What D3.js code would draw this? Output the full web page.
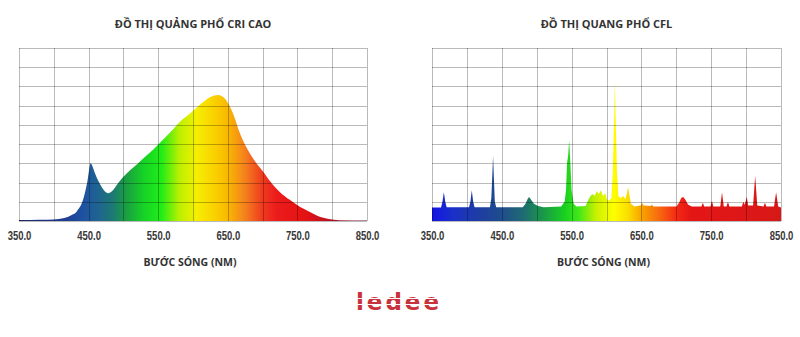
<!DOCTYPE html>
<html>
<head>
<meta charset="utf-8">
<script src="https://cdn.jsdelivr.net/npm/d3@7"></script>
<style>
  body { margin: 0; background: #fff; }
  svg { display: block; }
</style>
</head>
<body>
<script>
// wavelength ticks (nm)
var xTicks = [350, 450, 550, 650, 750, 850];

// high CRI LED spectrum (grid rows = units)
var criWavelengths = [350, 380, 400, 415, 425, 433, 442, 448, 453, 456, 460, 466, 472, 478, 485, 492, 500, 510, 520, 530, 543, 553, 567, 581, 596, 610, 625, 636, 645, 650, 655, 660, 667, 675, 682, 690, 700, 711, 725, 739, 754, 768, 782, 795, 810, 850];
var criValues = [0.05, 0.06, 0.08, 0.15, 0.3, 0.5, 1.1, 2.0, 3.0, 2.8, 2.4, 1.95, 1.6, 1.45, 1.6, 1.95, 2.3, 2.65, 2.97, 3.3, 3.72, 4.08, 4.6, 5.15, 5.6, 6.05, 6.45, 6.56, 6.4, 6.15, 5.8, 5.35, 4.6, 3.95, 3.5, 3.05, 2.6, 2.05, 1.5, 1.1, 0.73, 0.47, 0.22, 0.1, 0.04, 0.02];

// CFL spectrum
var cflWavelengths = [350, 363, 365, 367, 369, 371, 403, 405, 407, 409, 411, 433, 435, 436.5, 437.5, 438.5, 440, 442, 480, 484, 487, 489, 492, 496, 502, 510, 535, 540, 542, 543.5, 545, 546.5, 548, 550, 553, 557, 570, 574, 577, 580, 583, 586, 589, 592, 595, 598, 601, 604, 607, 609, 611, 612, 613, 615, 617, 620, 624, 627, 629, 631, 633, 635, 640, 649, 651, 653, 663, 665, 667, 700, 704, 707, 710, 713, 717, 722, 736, 738, 740, 749, 751, 753, 763, 765.5, 768, 772, 774, 776, 794, 796, 798, 801, 803, 810, 813, 816, 825, 827, 829, 840, 843, 846, 850];
var cflValues = [0.7, 0.7, 1.0, 1.5, 1.0, 0.72, 0.72, 1.0, 1.6, 1.0, 0.72, 0.72, 1.2, 2.5, 3.4, 2.4, 1.0, 0.72, 0.72, 0.9, 1.15, 1.25, 1.1, 0.9, 0.78, 0.72, 0.75, 1.0, 1.6, 3.0, 3.4, 4.2, 3.2, 1.6, 0.9, 0.75, 0.78, 1.1, 1.3, 1.4, 1.3, 1.55, 1.4, 1.6, 1.3, 1.45, 1.1, 1.05, 1.2, 2.5, 5.5, 7.35, 5.5, 2.5, 1.3, 1.2, 1.3, 1.15, 1.4, 1.75, 1.3, 0.9, 0.75, 0.8, 0.95, 0.8, 0.78, 0.85, 0.75, 0.75, 0.95, 1.2, 1.25, 1.1, 0.85, 0.75, 0.75, 0.95, 0.75, 0.75, 1.05, 0.75, 0.75, 1.5, 0.75, 0.75, 1.0, 0.75, 0.75, 1.0, 0.85, 1.25, 0.8, 0.8, 2.35, 0.8, 0.75, 0.95, 0.75, 0.75, 1.5, 0.75, 0.7];

var criTitle = "ĐỒ THỊ QUẢNG PHỔ CRI CAO";
var cflTitle = "ĐỒ THỊ QUANG PHỔ CFL";
var axisTitle = "BƯỚC SÓNG (NM)";

var width = 800, height = 337;

var svg = d3.select("body")
    .append("svg")
    .attr("width", width)
    .attr("height", height);

svg.append("rect")
    .attr("width", width)
    .attr("height", height)
    .attr("fill", "#fff");

var defs = svg.append("defs");

function drawPanel(opts) {
    var x = d3.scaleLinear()
        .domain([350, 850])
        .range([opts.left, opts.right]);
    var y = d3.scaleLinear()
        .domain([0, 9])
        .range([221, 48]);

    // horizontal colour ramp by wavelength
    var grad = defs.append("linearGradient")
        .attr("id", opts.id)
        .attr("gradientUnits", "userSpaceOnUse")
        .attr("x1", x(350)).attr("x2", x(850))
        .attr("y1", 0).attr("y2", 0);
    opts.stops.forEach(function(s) {
        grad.append("stop")
            .attr("offset", (s[0] - 350) / 500)
            .attr("stop-color", s[1]);
    });

    var g = svg.append("g");

    var area = d3.area()
        .x(function(d) { return x(d[0]); })
        .y0(y(0))
        .y1(function(d) { return y(d[1]); })
        .curve(opts.curve);

    g.append("path")
        .datum(d3.zip(opts.wl, opts.vals))
        .attr("d", area)
        .attr("fill", "url(#" + opts.id + ")");

    // grid on top of the fill
    var grid = g.append("g")
        .attr("stroke", "#000")
        .attr("stroke-opacity", 0.27)
        .attr("stroke-width", 1);
    d3.range(350, 851, 50).forEach(function(v) {
        var px = Math.round(x(v)) + 0.5;
        grid.append("line")
            .attr("x1", px).attr("x2", px)
            .attr("y1", y(9)).attr("y2", y(0));
    });
    d3.range(0, 10).forEach(function(v) {
        var py = Math.round(y(v)) + 0.5;
        grid.append("line")
            .attr("x1", x(350)).attr("x2", x(850))
            .attr("y1", py).attr("y2", py);
    });

    var ax = g.append("g")
        .attr("transform", "translate(0," + y(0) + ")")
        .call(d3.axisBottom(x)
            .tickValues(xTicks)
            .tickSize(0)
            .tickPadding(10)
            .tickFormat(d3.format(".1f")));
    ax.select(".domain").remove();
    // narrow, tall digits like the original's condensed face
    ax.selectAll("text")
        .attr("font-family", "'Liberation Sans', Arial, sans-serif")
        .attr("font-weight", "bold")
        .attr("font-size", 13)
        .attr("transform", "scale(0.73,1)")
        .attr("fill", "#383838");

    var cx = (opts.left + opts.right) / 2;
    g.append("text")
        .attr("x", cx)
        .attr("y", 28)
        .attr("text-anchor", "middle")
        .attr("font-family", "'Open Sans', sans-serif")
        .attr("font-weight", "bold")
        .attr("font-size", 11)
        .attr("fill", "#333")
        .text(opts.title);

    g.append("text")
        .attr("x", cx - 3)
        .attr("y", 266)
        .attr("text-anchor", "middle")
        .attr("font-family", "'Open Sans', sans-serif")
        .attr("font-weight", "bold")
        .attr("font-size", 10.5)
        .attr("fill", "#333")
        .text(axisTitle);
}

drawPanel({
    id: "criGrad",
    left: 19, right: 367,
    title: criTitle,
    wl: criWavelengths, vals: criValues,
    curve: d3.curveMonotoneX,
    stops: [[350, "#1c2470"], [420, "#1f3f94"], [440, "#1e50a2"], [465, "#1f6590"],
            [485, "#1c7a72"], [505, "#1aa040"], [530, "#16d426"], [555, "#22ec18"],
            [580, "#b8f000"], [605, "#f6ef00"], [630, "#fad200"], [650, "#f9b800"],
            [675, "#f4801e"], [700, "#ef3a1e"], [720, "#ec1c1c"], [760, "#e51212"],
            [790, "#c41020"], [830, "#8a1a30"], [850, "#6a1a38"]]
});

drawPanel({
    id: "cflGrad",
    left: 432, right: 781,
    title: cflTitle,
    wl: cflWavelengths, vals: cflValues,
    curve: d3.curveLinear,
    stops: [[350, "#1414e6"], [380, "#1a30c8"], [420, "#1e3ea0"], [450, "#1e4d8c"],
            [480, "#1e6a74"], [510, "#1a9a48"], [540, "#18d020"], [560, "#40e818"],
            [585, "#c8f000"], [610, "#ffff00"], [630, "#fae000"], [650, "#f9a400"],
            [675, "#f86a10"], [700, "#f42a14"], [720, "#e41616"], [850, "#d81818"]]
});

// brand mark
var logo = svg.append("g");
logo.append("text")
    .attr("x", 399)
    .attr("y", 310)
    .attr("text-anchor", "middle")
    .attr("font-family", "'DejaVu Sans', sans-serif")
    .attr("font-weight", "bold")
    .attr("font-size", 23)
    .attr("letter-spacing", 3)
    .attr("fill", "#c8323c")
    .text("ledee");
[298.5, 304.5].forEach(function(yy) {
    logo.append("line")
        .attr("x1", 355).attr("x2", 445)
        .attr("y1", yy).attr("y2", yy)
        .attr("stroke", "#fff")
        .attr("stroke-width", 1.2);
});
</script>
</body>
</html>
